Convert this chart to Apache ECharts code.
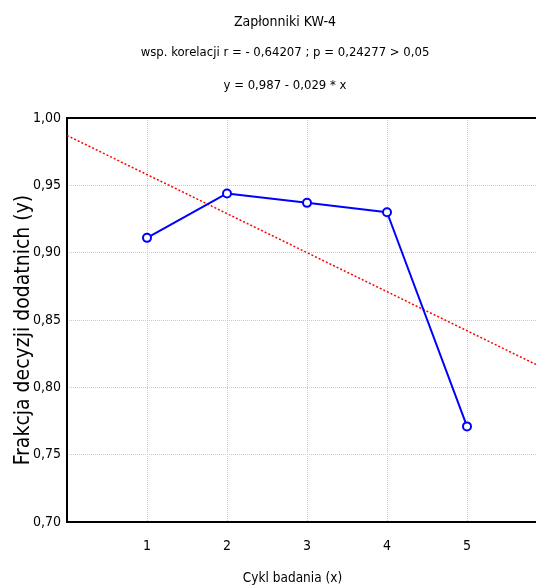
<!DOCTYPE html>
<html>
<head>
<meta charset="utf-8">
<script src="https://cdn.jsdelivr.net/npm/echarts@6/dist/echarts.min.js"></script>
<style>html,body{margin:0;padding:0;background:#fff}#c{width:536px;height:588px}</style>
</head>
<body>
<div id="c"></div>
<script>
var titleLines = ['Zapłonniki KW-4', 'wsp. korelacji r = - 0,64207 ; p = 0,24277 > 0,05', 'y = 0,987 - 0,029 * x'];
var cycles = [1, 2, 3, 4, 5];
var fractions = [0.911, 0.944, 0.937, 0.930, 0.771];
var regX = [0, 5.8625];
var regY = [0.987, 0.817];
var xTicks = [1, 2, 3, 4, 5];
var yTicks = [0.70, 0.75, 0.80, 0.85, 0.90, 0.95, 1.00];
var xName = 'Cykl badania (x)';
var yName = 'Frakcja decyzji dodatnich (y)';

var FONT = "'Liberation Sans Narrow', 'DejaVu Sans Condensed', 'Arial Narrow', sans-serif";
var chart = echarts.init(document.getElementById('c'), null, {renderer: 'canvas'});
var titleY = [22, 53, 86];
var titleSize = [14, 13, 13];
var option = {
  animation: false,
  backgroundColor: '#fff',
  graphic: titleLines.map(function (t, i) {
    return {type: 'text', x: 285, y: titleY[i], style: {text: t, fill: '#000', font: titleSize[i] + 'px ' + FONT, textAlign: 'center', textVerticalAlign: 'middle'}};
  }),
  grid: {left: 67, top: 118, right: 0, bottom: 66, containLabel: false, outerBoundsMode: 'none'},
  xAxis: [{
    type: 'value', min: 0, max: regX[1], interval: 1,
    axisLine: {show: true, onZero: false, lineStyle: {color: '#000', width: 2}},
    axisTick: {show: false},
    axisLabel: {color: '#000', fontFamily: FONT, fontSize: 14, margin: 17,
      formatter: function (v) { return xTicks.indexOf(v) >= 0 ? String(v) : ''; }},
    splitLine: {show: true, lineStyle: {color: '#c8c8c8', type: 'dotted', width: 1}},
    name: xName, nameLocation: 'middle', nameGap: 49,
    nameTextStyle: {color: '#000', fontFamily: FONT, fontSize: 13.5, padding: [0, 0, 0, -18]}
  }, {
    type: 'value', position: 'top', min: 0, max: regX[1],
    axisLine: {show: true, lineStyle: {color: '#000', width: 2}},
    axisTick: {show: false}, axisLabel: {show: false}, splitLine: {show: false}
  }],
  yAxis: {
    type: 'value', min: yTicks[0], max: yTicks[yTicks.length - 1], interval: 0.05,
    axisLine: {show: true, lineStyle: {color: '#000', width: 2}},
    axisTick: {show: false},
    axisLabel: {color: '#000', fontFamily: FONT, fontSize: 14, margin: 6,
      formatter: function (v) { return v.toFixed(2).replace('.', ','); }},
    splitLine: {show: true, lineStyle: {color: '#c8c8c8', type: 'dotted', width: 1}},
    name: yName, nameLocation: 'middle', nameGap: 33, nameMoveOverlap: false,
    nameTextStyle: {color: '#000', fontFamily: FONT, fontSize: 21, padding: [0, 20, 0, 0]}
  },
  series: [{
    type: 'line', xAxisIndex: 0,
    data: regX.map(function (x, i) { return [x, regY[i]]; }),
    symbol: 'none', lineStyle: {color: '#ff0000', width: 1.5, type: [2, 2]},
    silent: true, z: 2
  }, {
    type: 'line', xAxisIndex: 0,
    data: cycles.map(function (x, i) { return [x, fractions[i]]; }),
    symbol: 'circle', symbolSize: 8,
    itemStyle: {color: '#fff', borderColor: '#0000ff', borderWidth: 2},
    lineStyle: {color: '#0000ff', width: 2}, z: 3
  }]
};
chart.setOption(option);
</script>
</body>
</html>
